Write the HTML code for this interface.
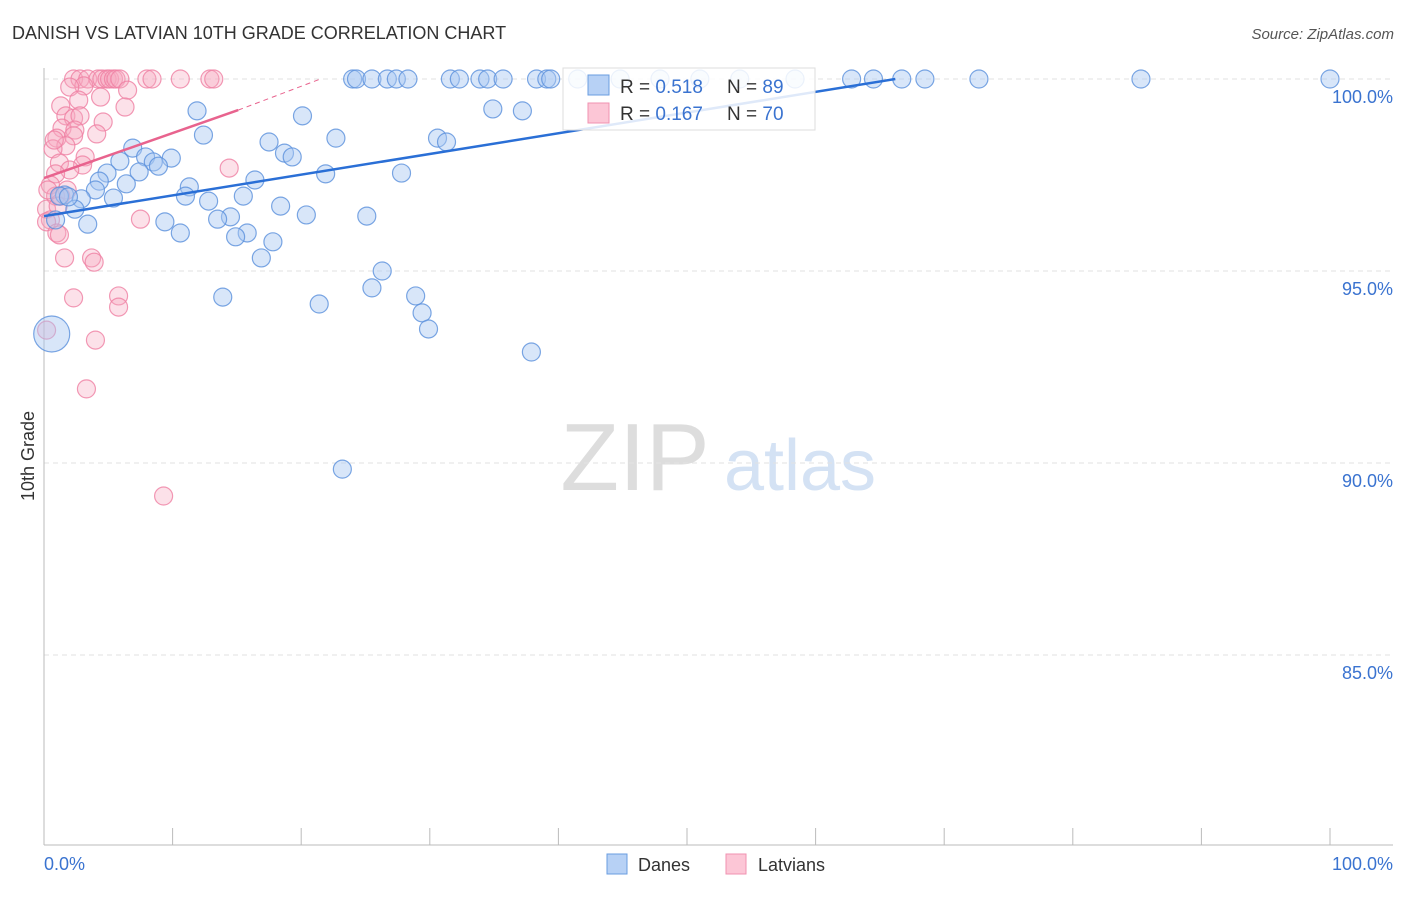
<!DOCTYPE html>
<html><head><meta charset="utf-8"><style>
body{margin:0;background:#fff;font-family:"Liberation Sans",sans-serif;}
svg text{font-family:"Liberation Sans",sans-serif;}
</style></head><body>
<svg id="chart" width="1406" height="892" xmlns="http://www.w3.org/2000/svg">
<text x="12" y="39" font-size="18" fill="#333">DANISH VS LATVIAN 10TH GRADE CORRELATION CHART</text>
<text x="1394" y="39" font-size="15" fill="#555" text-anchor="end" font-style="italic">Source: ZipAtlas.com</text>
<text transform="translate(34,456) rotate(-90)" font-size="18" fill="#333" text-anchor="middle">10th Grade</text>
<g>
<text x="635" y="490" font-size="96" fill="#ddd" text-anchor="middle" font-family="Liberation Serif">ZIP</text>
<text x="800" y="490" font-size="72" fill="#d4e2f4" text-anchor="middle">atlas</text>
</g>
<g id="grid"></g>
<g id="axes"></g>
<g id="points"></g>
<g id="trends"></g>
<g>
<rect x="563" y="68" width="252" height="62" fill="#fff" fill-opacity="0.85" stroke="#ddd"/>
<rect x="588" y="75" width="21" height="20" fill="#b7d1f5" stroke="#6a9de0"/>
<rect x="588" y="103" width="21" height="20" fill="#fcc6d6" stroke="#f092b0"/>
<text x="620" y="93" font-size="19" fill="#333">R = <tspan fill="#3a73d0">0.518</tspan></text>
<text x="727" y="93" font-size="19" fill="#333">N = <tspan fill="#3a73d0">89</tspan></text>
<text x="620" y="120" font-size="19" fill="#333">R = <tspan fill="#3a73d0">0.167</tspan></text>
<text x="727" y="120" font-size="19" fill="#333">N = <tspan fill="#3a73d0">70</tspan></text>
</g>
<g>
<rect x="607" y="854" width="20" height="20" fill="#b7d1f5" stroke="#6a9de0"/>
<text x="638" y="871" font-size="18" fill="#333">Danes</text>
<rect x="726" y="854" width="20" height="20" fill="#fcc6d6" stroke="#f092b0"/>
<text x="758" y="871" font-size="18" fill="#333">Latvians</text>
</g>
</svg>
<script>
const xTicks=[0,10,20,30,40,50,60,70,80,90,100];
const yTicks=[100,95,90,85];
const yTickLabels=["100.0%","95.0%","90.0%","85.0%"];
const xEndLabels=["0.0%","100.0%"];
const daneX=[24.0,24.3,25.5,26.7,27.4,28.3,31.6,32.3,33.9,34.5,35.7,38.3,39.1,39.4,41.5,44.8,47.9,51.0,54.1,58.4,62.8,64.5,66.7,68.5,72.7,85.3,100,
11.9,34.9,37.2,20.1,12.4,22.7,17.5,30.6,31.3,6.9,18.7,19.3,7.9,5.9,8.5,9.9,8.9,4.9,7.4,21.9,27.8,16.4,4.3,6.4,4.0,11.3,1.6,11.0,5.4,2.9,15.5,12.8,18.4,2.4,20.4,25.1,14.5,13.5,3.4,9.4,10.6,15.8,14.9,17.8,16.9,26.3,25.5,13.9,28.9,21.4,29.4,29.9,37.9,23.2,0.9,1.2,1.9,0.6];
const daneY=[100,100,100,100,100,100,100,100,100,100,100,100,100,100,100,100,100,100,100,100,100,100,100,100,100,100,100,
99.17,99.22,99.17,99.04,98.54,98.46,98.36,98.46,98.36,98.20,98.07,97.97,97.97,97.86,97.84,97.94,97.73,97.55,97.58,97.53,97.55,97.37,97.34,97.27,97.11,97.19,96.98,96.95,96.90,96.88,96.95,96.82,96.69,96.61,96.46,96.43,96.41,96.35,96.22,96.28,95.99,95.99,95.89,95.76,95.34,95.0,94.56,94.32,94.35,94.14,93.91,93.49,92.89,89.84,96.33,96.95,96.93,93.36];
const latX=[2.3,2.8,3.4,4.2,4.5,4.9,5.1,5.4,5.6,5.9,8.0,8.4,10.6,12.9,13.2,
3.1,2.0,6.5,4.4,2.7,1.3,6.3,1.7,4.6,2.3,2.8,1.4,2.4,4.1,1.0,2.3,1.7,0.7,3.2,1.2,3.0,2.0,0.9,0.5,1.8,0.9,1.3,0.2,1.1,0.5,7.5,0.2,1.0,1.2,14.4,1.6,3.7,3.9,5.8,2.3,5.8,4.0,3.3,9.3,0.2,0.3,0.8];
const latY=[100,100,100,100,100,100,100,100,100,100,100,100,100,100,100,
99.82,99.79,99.71,99.53,99.45,99.30,99.27,99.04,98.88,98.98,99.04,98.72,98.67,98.57,98.46,98.52,98.26,98.18,97.97,97.81,97.76,97.63,97.53,97.24,97.11,96.95,96.95,96.61,96.69,96.33,96.35,96.28,95.99,95.94,97.68,95.34,95.34,95.23,94.35,94.30,94.06,93.20,91.93,89.14,93.46,97.11,98.41];
const daneTrend=[0,96.43,66.2,100];
const latTrend=[0,97.42,15.1,99.19,21.5,100];
const NS="http://www.w3.org/2000/svg";
const X=v=>44+v*12.86;
const Y=v=>79+(100-v)*38.4;
function mk(tag,attrs,parent){const e=document.createElementNS(NS,tag);for(const k in attrs)e.setAttribute(k,attrs[k]);parent.appendChild(e);return e;}
const grid=document.getElementById('grid'),axes=document.getElementById('axes'),pts=document.getElementById('points'),tr=document.getElementById('trends');
yTicks.forEach((t,i)=>{const l=mk('line',{x1:44,x2:1393,y1:Y(t),y2:Y(t),stroke:'#e2e2e2','stroke-dasharray':'5,4'},grid);


const tx=mk('text',{x:1393,y:Y(t)+24,'font-size':18,fill:'#3a73d0','text-anchor':'end'},axes);tx.textContent=yTickLabels[i];

});
const ax=mk('line',{x1:44,x2:44,y1:68,y2:845,stroke:'#bbb'},axes);


const bx=mk('line',{x1:44,x2:1393,y1:845,y2:845,stroke:'#bbb'},axes);


xTicks.forEach(t=>{const l=mk('line',{x1:X(t),x2:X(t),y1:828,y2:845,stroke:'#bbb'},axes);

});
const xl0=mk('text',{x:44,y:870,'font-size':18,fill:'#3a73d0'},axes);xl0.textContent=xEndLabels[0];


const xl1=mk('text',{x:1393,y:870,'font-size':18,fill:'#3a73d0','text-anchor':'end'},axes);xl1.textContent=xEndLabels[1];


latX.forEach((v,i)=>{const c=mk('circle',{cx:X(v),cy:Y(latY[i]),r:9,fill:'#f7a8c0','fill-opacity':0.35,stroke:'#ef7fa2','stroke-opacity':0.8,'stroke-width':1.2},pts);

});
daneX.forEach((v,i)=>{const big=i===daneX.length-1;const c=mk('circle',{cx:X(v),cy:Y(daneY[i]),r:big?18:9,fill:'#a9c8f2','fill-opacity':0.45,stroke:'#5a90dc','stroke-opacity':0.8,'stroke-width':1.2},pts);

});
const bl=mk('line',{x1:X(daneTrend[0]),y1:Y(daneTrend[1]),x2:X(daneTrend[2]),y2:Y(daneTrend[3]),stroke:'#2a6fd6','stroke-width':2.5},tr);


const pl=mk('line',{x1:X(latTrend[0]),y1:Y(latTrend[1]),x2:X(latTrend[2]),y2:Y(latTrend[3]),stroke:'#e8638e','stroke-width':2.5},tr);


const pd=mk('line',{x1:X(latTrend[2]),y1:Y(latTrend[3]),x2:X(latTrend[4]),y2:Y(latTrend[5]),stroke:'#e8638e','stroke-width':1,'stroke-dasharray':'5,4'},tr);


</script>
</body></html>
